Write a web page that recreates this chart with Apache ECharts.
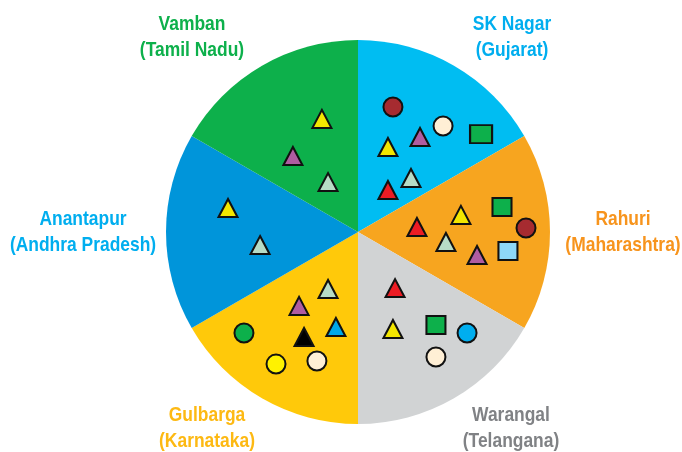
<!DOCTYPE html>
<html>
<head>
<meta charset="utf-8">
<script src="https://cdn.jsdelivr.net/npm/echarts@6/dist/echarts.min.js"></script>
<style>
  html, body { margin: 0; padding: 0; background: #ffffff; }
  #chart { width: 682px; height: 452px; }
</style>
</head>
<body>
<div id="chart"></div>
<script>
// Trial sites, clockwise from the top
const sites  = ['SK Nagar', 'Rahuri', 'Warangal', 'Gulbarga', 'Anantapur', 'Vamban'];
const states = ['Gujarat', 'Maharashtra', 'Telangana', 'Karnataka', 'Andhra Pradesh', 'Tamil Nadu'];
const shares = [1, 1, 1, 1, 1, 1];

// Marker positions in percent of the pie radius (x right, y up, origin at pie centre)
const yellowTriangles = [[-18.8, 58.9], [-67.7, 12.5], [15.6, 44.3], [53.6, 8.9], [18.2, -50.5]];
const purpleTriangles = [[-33.9, 39.6], [32.3, 49.5], [62.0, -12.0], [-30.7, -38.5]];
const mintTriangles   = [[-15.6, 26.0], [27.6, 28.1], [45.8, -5.2], [-51.0, -6.8], [-15.6, -29.7]];
const redTriangles    = [[15.6, 21.9], [30.7, 2.6], [19.3, -29.2]];
const blueTriangles   = [[-11.5, -49.5]];
const blackTriangles  = [[-28.1, -54.7]];
const maroonCircles   = [[18.2, 65.1], [87.5, 2.1]];
const creamCircles    = [[44.3, 55.2], [40.6, -65.1], [-21.4, -67.2]];
const blueCircles     = [[56.8, -52.6]];
const greenCircles    = [[-59.4, -52.6]];
const yellowCircles   = [[-42.7, -68.8]];
const greenSquares    = [[64.1, 51.0], [75.0, 13.0], [40.6, -48.4]];
const skySquares      = [[78.1, -9.9]];

const sliceColors = ['#00BDF2', '#F7A51F', '#D1D3D4', '#FFC90A', '#0095DA', '#0DB04B'];
const labelColors = ['#00AEEF', '#F7941D', '#808285', '#FDB913', '#00AEEF', '#0DB04B'];
// label block centres, px
const labelSpots = [[512, 37], [623, 232], [511, 428], [207, 428], [83, 232], [192, 37]];

const chart = echarts.init(document.getElementById('chart'), null, { renderer: 'canvas' });

function markers(data, symbol, color, size) {
  return {
    type: 'scatter',
    data: data,
    symbol: symbol,
    symbolSize: size,
    itemStyle: { color: color, borderColor: '#111111', borderWidth: 2, opacity: 1 },
    emphasis: { disabled: true },
    silent: true,
    z: 5
  };
}

const TRI = [19, 18];
const DOT = 19;

// two-line, narrow bold site captions
const captions = sites.map((s, i) => ({
  type: 'text',
  x: labelSpots[i][0],
  y: labelSpots[i][1],
  scaleX: 0.83,
  silent: true,
  style: {
    text: s + '\n(' + states[i] + ')',
    fill: labelColors[i],
    fontFamily: "'Liberation Sans', Arial, sans-serif",
    fontWeight: 'bold',
    fontSize: 21,
    lineHeight: 26,
    align: 'center',
    verticalAlign: 'middle'
  }
}));

chart.setOption({
  animation: false,
  backgroundColor: '#ffffff',
  grid: { left: 166, top: 40, width: 384, height: 384 },
  xAxis: { type: 'value', min: -100, max: 100, show: false },
  yAxis: { type: 'value', min: -100, max: 100, show: false },
  graphic: captions,
  series: [
    {
      type: 'pie',
      center: [358, 232],
      radius: 192,
      startAngle: 90,
      clockwise: true,
      silent: true,
      z: 1,
      data: sites.map((s, i) => ({
        name: s,
        value: shares[i],
        itemStyle: { color: sliceColors[i] }
      })),
      itemStyle: { borderWidth: 0 },
      label: { show: false },
      labelLine: { show: false }
    },
    markers(yellowTriangles, 'triangle', '#F3E600', TRI),
    markers(purpleTriangles, 'triangle', '#B05CA1', TRI),
    markers(mintTriangles, 'triangle', '#B7DCC6', TRI),
    markers(redTriangles, 'triangle', '#EC1C24', TRI),
    markers(blueTriangles, 'triangle', '#00A8E8', TRI),
    markers(blackTriangles, 'triangle', '#000000', TRI),
    markers(maroonCircles, 'circle', '#A62B30', DOT),
    markers(creamCircles, 'circle', '#FFEFD5', DOT),
    markers(blueCircles, 'circle', '#00AEEF', DOT),
    markers(greenCircles, 'circle', '#0DB04B', DOT),
    markers(yellowCircles, 'circle', '#FFF200', DOT),
    markers(greenSquares, 'rect', '#0DB04B', (v, p) => p.dataIndex === 0 ? [22, 18] : [19, 18]),
    markers(skySquares, 'rect', '#8ED8F8', [19, 18])
  ]
});
</script>
</body>
</html>
